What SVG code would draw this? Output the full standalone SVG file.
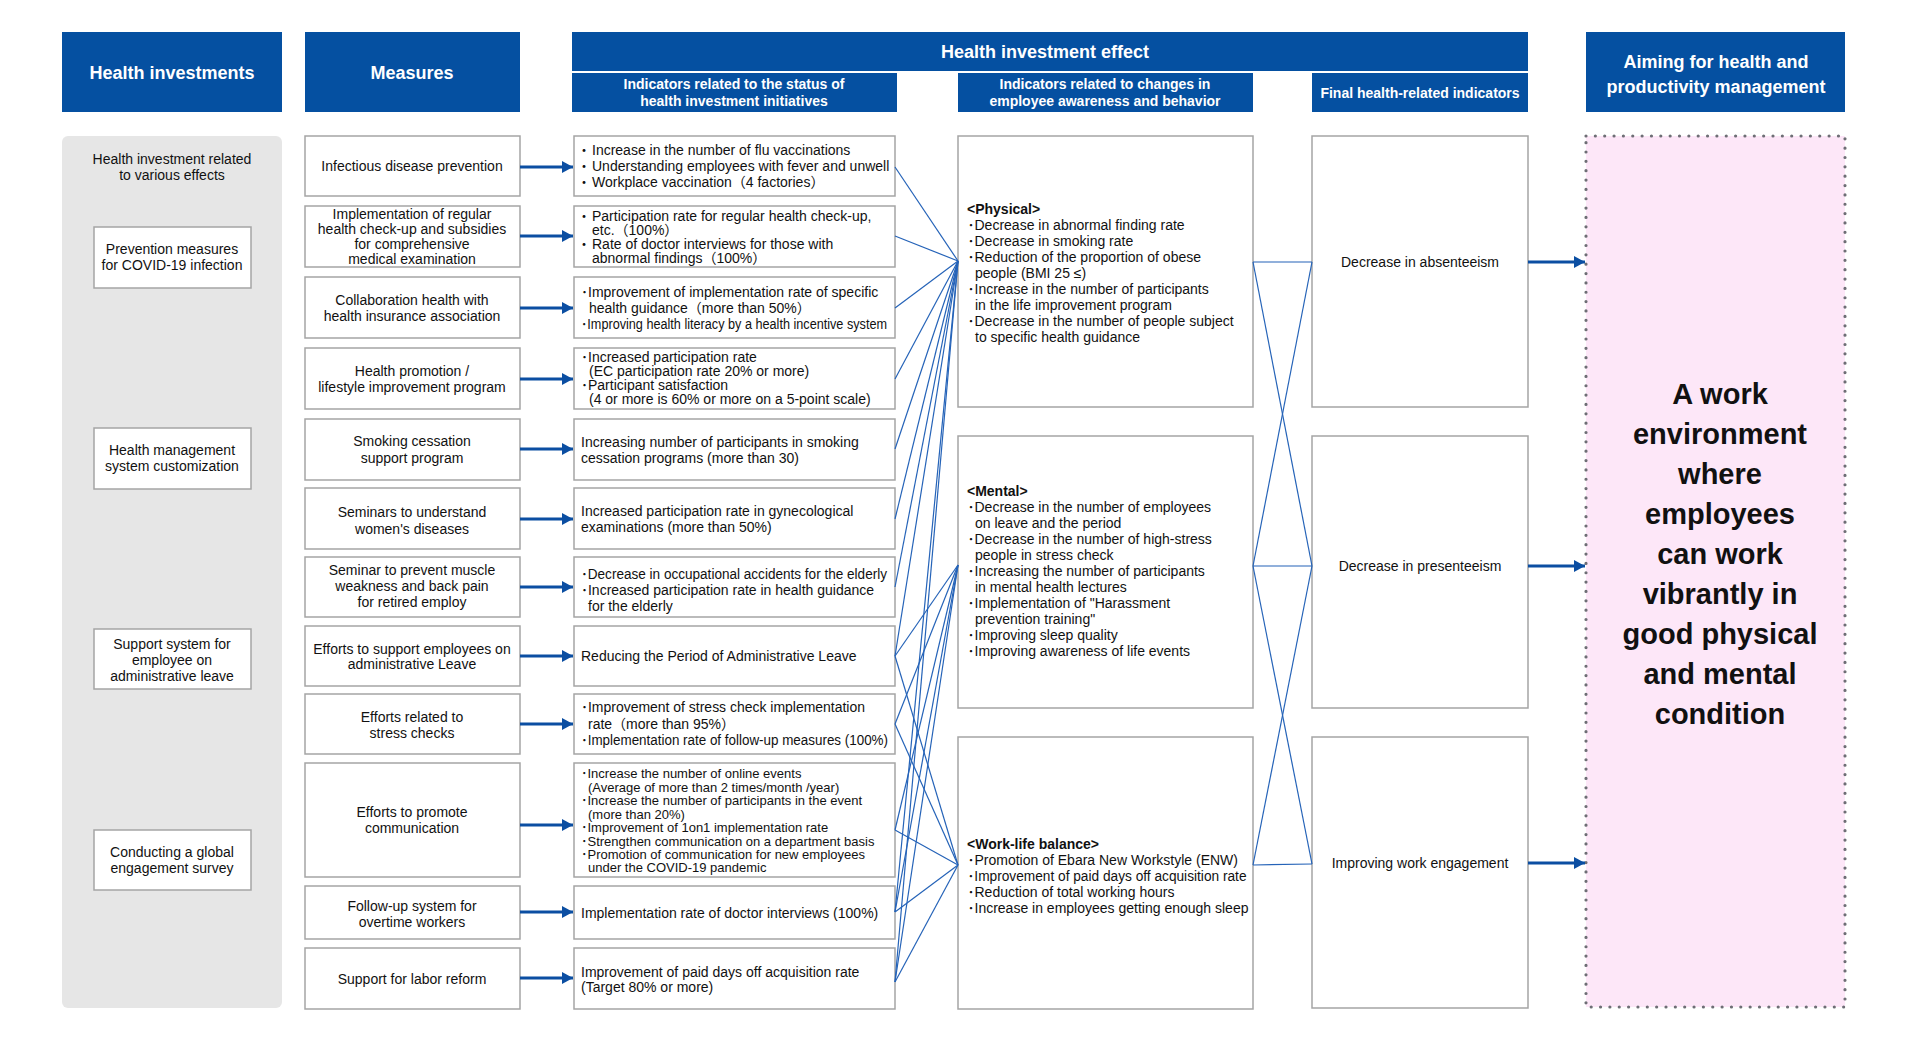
<svg xmlns="http://www.w3.org/2000/svg" width="1909" height="1040" viewBox="0 0 1909 1040">
<defs>
<style>
.hdr{fill:#0550a1}
.box{fill:#fff;stroke:#a5a5a5;stroke-width:1.5}
text{font-family:"Liberation Sans","Noto Sans CJK JP",sans-serif;font-size:14px;fill:#111}
.c{text-anchor:middle}
.wb{fill:#fff;font-weight:bold}
.s13{font-size:13px}
.b{font-weight:bold}
.big{font-size:29px;font-weight:bold;text-anchor:middle}
.conn line{stroke:#2563b8;stroke-width:1.2;fill:none}
.arr{stroke:#0b4ea2;stroke-width:3;fill:none;marker-end:url(#ah)}
</style>
<marker id="ah" markerUnits="userSpaceOnUse" markerWidth="11" markerHeight="12" refX="11" refY="6" orient="auto">
<path d="M0,0 L11,6 L0,12 z" fill="#0b4ea2"/>
</marker>
</defs>
<rect width="1909" height="1040" fill="#fff"/>

<!-- Headers -->
<g id="hdr-investments"><rect class="hdr" x="62" y="32" width="220" height="80"/><text class="c wb" x="172" y="79" style="font-size:18px">Health investments</text></g>
<g id="hdr-measures"><rect class="hdr" x="305" y="32" width="215" height="80"/><text class="c wb" x="412" y="79" style="font-size:18px">Measures</text></g>
<g id="hdr-effect"><rect class="hdr" x="572" y="32" width="956" height="39"/><text class="c wb" x="1045" y="58" style="font-size:18px">Health investment effect</text></g>
<g id="hdr-sub1"><rect class="hdr" x="572" y="73" width="325" height="39"/><text class="c wb" x="734" y="89">Indicators related to the status of</text><text class="c wb" x="734" y="106">health investment initiatives</text></g>
<g id="hdr-sub2"><rect class="hdr" x="958" y="73" width="295" height="39"/><text class="c wb" x="1105" y="89">Indicators related to changes in</text><text class="c wb" x="1105" y="106">employee awareness and behavior</text></g>
<g id="hdr-sub3"><rect class="hdr" x="1312" y="73" width="216" height="39"/><text class="c wb" x="1420" y="98">Final health-related indicators</text></g>
<g id="hdr-aim"><rect class="hdr" x="1586" y="32" width="259" height="80"/><text class="c wb" x="1716" y="68" style="font-size:18px">Aiming for health and</text><text class="c wb" x="1716" y="93" style="font-size:18px">productivity management</text></g>

<!-- Left panel -->
<g id="investments-panel">
<rect x="62" y="136" width="220" height="872" rx="6" fill="#e6e6e6"/>
<text class="c" x="172" y="164">Health investment related</text>
<text class="c" x="172" y="180">to various effects</text>
</g>
<g id="inv-covid"><rect class="box" x="94" y="227" width="157" height="61"/><text class="c" x="172" y="254">Prevention measures</text><text class="c" x="172" y="270">for COVID-19 infection</text></g>
<g id="inv-system"><rect class="box" x="94" y="428" width="157" height="61"/><text class="c" x="172" y="455">Health management</text><text class="c" x="172" y="471">system customization</text></g>
<g id="inv-leave"><rect class="box" x="94" y="629" width="157" height="60"/><text class="c" x="172" y="649">Support system for</text><text class="c" x="172" y="665">employee on</text><text class="c" x="172" y="681">administrative leave</text></g>
<g id="inv-survey"><rect class="box" x="94" y="830" width="157" height="60"/><text class="c" x="172" y="857">Conducting a global</text><text class="c" x="172" y="873">engagement survey</text></g>

<!-- Measures -->
<g id="m1"><rect class="box" x="305" y="136" width="215" height="60"/><text class="c" x="412" y="171">Infectious disease prevention</text></g>
<g id="m2"><rect class="box" x="305" y="206" width="215" height="61"/><text class="c" x="412" y="219">Implementation of regular</text><text class="c" x="412" y="234">health check-up and subsidies</text><text class="c" x="412" y="249">for comprehensive</text><text class="c" x="412" y="264">medical examination</text></g>
<g id="m3"><rect class="box" x="305" y="277" width="215" height="61"/><text class="c" x="412" y="305">Collaboration health with</text><text class="c" x="412" y="321">health insurance association</text></g>
<g id="m4"><rect class="box" x="305" y="348" width="215" height="61"/><text class="c" x="412" y="376">Health promotion /</text><text class="c" x="412" y="392">lifestyle improvement program</text></g>
<g id="m5"><rect class="box" x="305" y="419" width="215" height="61"/><text class="c" x="412" y="446">Smoking cessation</text><text class="c" x="412" y="463">support program</text></g>
<g id="m6"><rect class="box" x="305" y="488" width="215" height="61"/><text class="c" x="412" y="517">Seminars to understand</text><text class="c" x="412" y="534">women's diseases</text></g>
<g id="m7"><rect class="box" x="305" y="557" width="215" height="60"/><text class="c" x="412" y="575">Seminar to prevent muscle</text><text class="c" x="412" y="591">weakness and back pain</text><text class="c" x="412" y="607">for retired employ</text></g>
<g id="m8"><rect class="box" x="305" y="626" width="215" height="60"/><text class="c" x="412" y="654">Efforts to support employees on</text><text class="c" x="412" y="669">administrative Leave</text></g>
<g id="m9"><rect class="box" x="305" y="694" width="215" height="60"/><text class="c" x="412" y="722">Efforts related to</text><text class="c" x="412" y="738">stress checks</text></g>
<g id="m10"><rect class="box" x="305" y="763" width="215" height="114"/><text class="c" x="412" y="817">Efforts to promote</text><text class="c" x="412" y="833">communication</text></g>
<g id="m11"><rect class="box" x="305" y="886" width="215" height="53"/><text class="c" x="412" y="911">Follow-up system for</text><text class="c" x="412" y="927">overtime workers</text></g>
<g id="m12"><rect class="box" x="305" y="948" width="215" height="61"/><text class="c" x="412" y="984">Support for labor reform</text></g>

<!-- Indicators: status of initiatives -->
<g id="i1"><rect class="box" x="574" y="136" width="321" height="60"/>
<text y="155"><tspan x="577">・</tspan><tspan x="592">Increase in the number of flu vaccinations</tspan></text>
<text y="171"><tspan x="577">・</tspan><tspan x="592">Understanding employees with fever and unwell</tspan></text>
<text y="187"><tspan x="577">・</tspan><tspan x="592">Workplace vaccination（4 factories）</tspan></text></g>
<g id="i2"><rect class="box" x="574" y="206" width="321" height="61"/>
<text y="221"><tspan x="577">・</tspan><tspan x="592">Participation rate for regular health check-up,</tspan></text>
<text x="592" y="235">etc.（100%）</text>
<text y="249"><tspan x="577">・</tspan><tspan x="592">Rate of doctor interviews for those with</tspan></text>
<text x="592" y="263">abnormal findings（100%）</text></g>
<g id="i3"><rect class="box" x="574" y="277" width="321" height="61"/>
<text x="581" y="297">･Improvement of implementation rate of specific</text>
<text x="589" y="313">health guidance（more than 50%）</text>
<text x="581" y="329" textLength="306" lengthAdjust="spacingAndGlyphs">･Improving health literacy by a health incentive system</text></g>
<g id="i4"><rect class="box" x="574" y="348" width="321" height="61"/>
<text x="581" y="362">･Increased participation rate</text>
<text x="589" y="376">(EC participation rate 20% or more)</text>
<text x="581" y="390">･Participant satisfaction</text>
<text x="589" y="404">(4 or more is 60% or more on a 5-point scale)</text></g>
<g id="i5"><rect class="box" x="574" y="419" width="321" height="61"/>
<text x="581" y="447">Increasing number of participants in smoking</text>
<text x="581" y="463">cessation programs (more than 30)</text></g>
<g id="i6"><rect class="box" x="574" y="488" width="321" height="61"/>
<text x="581" y="516">Increased participation rate in gynecological</text>
<text x="581" y="532">examinations (more than 50%)</text></g>
<g id="i7"><rect class="box" x="574" y="557" width="321" height="60"/>
<text x="581" y="579" textLength="306" lengthAdjust="spacingAndGlyphs">･Decrease in occupational accidents for the elderly</text>
<text x="581" y="595" textLength="293" lengthAdjust="spacingAndGlyphs">･Increased participation rate in health guidance</text>
<text x="588" y="611">for the elderly</text></g>
<g id="i8"><rect class="box" x="574" y="626" width="321" height="60"/>
<text x="581" y="661">Reducing the Period of Administrative Leave</text></g>
<g id="i9"><rect class="box" x="574" y="694" width="321" height="60"/>
<text x="581" y="712" textLength="284" lengthAdjust="spacingAndGlyphs">･Improvement of stress check implementation</text>
<text x="588" y="729">rate（more than 95%）</text>
<text x="581" y="745" textLength="307" lengthAdjust="spacingAndGlyphs">･Implementation rate of follow-up measures (100%)</text></g>
<g id="i10"><rect class="box" x="574" y="763" width="321" height="114"/>
<text class="s13" x="581" y="778">･Increase the number of online events</text>
<text class="s13" x="588" y="791.5">(Average of more than 2 times/month /year)</text>
<text class="s13" x="581" y="805">･Increase the number of participants in the event</text>
<text class="s13" x="588" y="818.5">(more than 20%)</text>
<text class="s13" x="581" y="832">･Improvement of 1on1 implementation rate</text>
<text class="s13" x="581" y="845.5">･Strengthen communication on a department basis</text>
<text class="s13" x="581" y="859">･Promotion of communication for new employees</text>
<text class="s13" x="588" y="872">under the COVID-19 pandemic</text></g>
<g id="i11"><rect class="box" x="574" y="886" width="321" height="53"/>
<text x="581" y="918">Implementation rate of doctor interviews (100%)</text></g>
<g id="i12"><rect class="box" x="574" y="948" width="321" height="61"/>
<text x="581" y="977">Improvement of paid days off acquisition rate</text>
<text x="581" y="992">(Target 80% or more)</text></g>

<!-- Awareness & behavior -->
<g id="physical"><rect class="box" x="958" y="136" width="295" height="271"/>
<text class="b" x="967" y="214">&lt;Physical&gt;</text>
<text x="967.5" y="230">･Decrease in abnormal finding rate</text>
<text x="967.5" y="246">･Decrease in smoking rate</text>
<text x="967.5" y="262">･Reduction of the proportion of obese</text>
<text x="975" y="278">people (BMI 25 ≤)</text>
<text x="967.5" y="294">･Increase in the number of participants</text>
<text x="975" y="310">in the life improvement program</text>
<text x="967.5" y="326">･Decrease in the number of people subject</text>
<text x="975" y="342">to specific health guidance</text></g>
<g id="mental"><rect class="box" x="958" y="436" width="295" height="272"/>
<text class="b" x="967" y="495.5">&lt;Mental&gt;</text>
<text x="967.5" y="511.5">･Decrease in the number of employees</text>
<text x="975" y="527.5">on leave and the period</text>
<text x="967.5" y="543.5">･Decrease in the number of high-stress</text>
<text x="975" y="559.5">people in stress check</text>
<text x="967.5" y="575.5">･Increasing the number of participants</text>
<text x="975" y="591.5">in mental health lectures</text>
<text x="967.5" y="607.5">･Implementation of "Harassment</text>
<text x="975" y="623.5">prevention training"</text>
<text x="967.5" y="639.5">･Improving sleep quality</text>
<text x="967.5" y="655.5">･Improving awareness of life events</text></g>
<g id="wlb"><rect class="box" x="958" y="737" width="295" height="272"/>
<text class="b" x="967" y="849">&lt;Work-life balance&gt;</text>
<text x="967.5" y="865">･Promotion of Ebara New Workstyle (ENW)</text>
<text x="967.5" y="881" textLength="279" lengthAdjust="spacingAndGlyphs">･Improvement of paid days off acquisition rate</text>
<text x="967.5" y="897">･Reduction of total working hours</text>
<text x="967.5" y="913">･Increase in employees getting enough sleep</text></g>

<!-- Final indicators -->
<g id="f1"><rect class="box" x="1312" y="136" width="216" height="271"/><text class="c" x="1420" y="267">Decrease in absenteeism</text></g>
<g id="f2"><rect class="box" x="1312" y="436" width="216" height="272"/><text class="c" x="1420" y="571">Decrease in presenteeism</text></g>
<g id="f3"><rect class="box" x="1312" y="737" width="216" height="271"/><text class="c" x="1420" y="868">Improving work engagement</text></g>

<!-- Goal -->
<g id="goal">
<rect x="1586" y="136" width="259" height="871" fill="#fde7f8" stroke="#6e6e75" stroke-width="3.2" stroke-dasharray="0 9.35" stroke-linecap="round"/>
<text class="big" x="1720" y="404">A work</text>
<text class="big" x="1720" y="444">environment</text>
<text class="big" x="1720" y="484">where</text>
<text class="big" x="1720" y="524">employees</text>
<text class="big" x="1720" y="564">can work</text>
<text class="big" x="1720" y="604">vibrantly in</text>
<text class="big" x="1720" y="644">good physical</text>
<text class="big" x="1720" y="684">and mental</text>
<text class="big" x="1720" y="724">condition</text>
</g>

<!-- Connectors -->
<g id="connectors">
<g id="arrows">
<line class="arr" x1="520" y1="167" x2="573" y2="167"/>
<line class="arr" x1="520" y1="236" x2="573" y2="236"/>
<line class="arr" x1="520" y1="308" x2="573" y2="308"/>
<line class="arr" x1="520" y1="379" x2="573" y2="379"/>
<line class="arr" x1="520" y1="449" x2="573" y2="449"/>
<line class="arr" x1="520" y1="519" x2="573" y2="519"/>
<line class="arr" x1="520" y1="587" x2="573" y2="587"/>
<line class="arr" x1="520" y1="656" x2="573" y2="656"/>
<line class="arr" x1="520" y1="724" x2="573" y2="724"/>
<line class="arr" x1="520" y1="825" x2="573" y2="825"/>
<line class="arr" x1="520" y1="912" x2="573" y2="912"/>
<line class="arr" x1="520" y1="978" x2="573" y2="978"/>
<line class="arr" x1="1528" y1="262" x2="1585" y2="262"/>
<line class="arr" x1="1528" y1="566" x2="1585" y2="566"/>
<line class="arr" x1="1528" y1="863" x2="1585" y2="863"/>
</g>
<g class="conn">
<line x1="895" y1="167" x2="958" y2="261"/>
<line x1="895" y1="236" x2="958" y2="261"/>
<line x1="895" y1="308" x2="958" y2="261"/>
<line x1="895" y1="379" x2="958" y2="261"/>
<line x1="895" y1="449" x2="958" y2="261"/>
<line x1="895" y1="519" x2="958" y2="261"/>
<line x1="895" y1="587" x2="958" y2="261"/>
<line x1="895" y1="656" x2="958" y2="261"/>
<line x1="895" y1="656" x2="958" y2="565"/>
<line x1="895" y1="656" x2="958" y2="865"/>
<line x1="895" y1="724" x2="958" y2="565"/>
<line x1="895" y1="724" x2="958" y2="865"/>
<line x1="895" y1="830" x2="958" y2="565"/>
<line x1="895" y1="830" x2="958" y2="865"/>
<line x1="895" y1="912" x2="958" y2="261"/>
<line x1="895" y1="912" x2="958" y2="565"/>
<line x1="895" y1="912" x2="958" y2="865"/>
<line x1="895" y1="982" x2="958" y2="261"/>
<line x1="895" y1="982" x2="958" y2="565"/>
<line x1="895" y1="982" x2="958" y2="865"/>
<line x1="1253" y1="262" x2="1312" y2="262"/>
<line x1="1253" y1="262" x2="1312" y2="566"/>
<line x1="1253" y1="566" x2="1312" y2="262"/>
<line x1="1253" y1="566" x2="1312" y2="566"/>
<line x1="1253" y1="566" x2="1312" y2="864"/>
<line x1="1253" y1="865" x2="1312" y2="566"/>
<line x1="1253" y1="865" x2="1312" y2="864"/>
</g>
</g>
</svg>
